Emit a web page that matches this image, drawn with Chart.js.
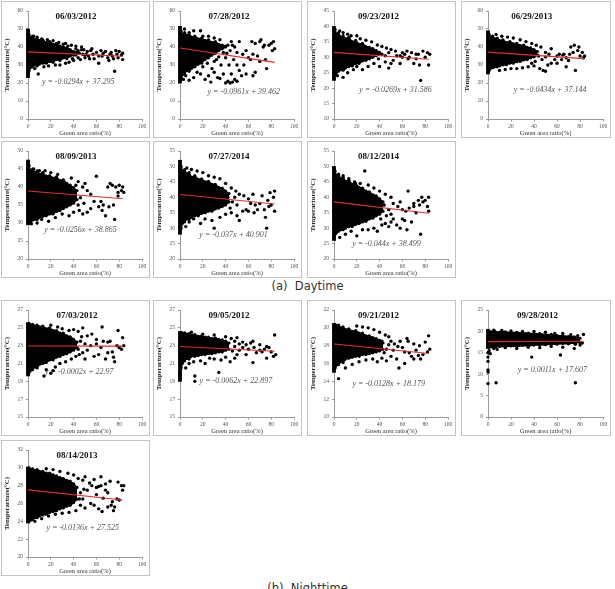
<!DOCTYPE html>
<html><head><meta charset="utf-8">
<script src="https://cdn.jsdelivr.net/npm/chart.js@4.4.1/dist/chart.umd.min.js"></script>
<style>
body{margin:0;background:#fff;width:615px;height:589px;overflow:hidden;position:relative}
.panel{position:absolute;border:1px solid #c4c4c4;box-sizing:border-box;background:#fff;overflow:hidden}
.panel canvas{position:absolute;left:0;top:0}
.cap{position:absolute;left:0;width:615px;text-align:center;font-family:"DejaVu Sans",sans-serif;font-size:11.5px;color:#333;white-space:pre}
</style></head><body>
<div class="cap" style="top:279px">(a)  Daytime</div>
<div class="cap" style="top:581px">(b)  Nighttime</div>
<script>
// ---------- data ----------
const titles = ['06/03/2012','07/28/2012','09/23/2012','06/29/2013','08/09/2013','07/27/2014','08/12/2014',
                '07/03/2012','09/05/2012','09/21/2012','09/28/2012','08/14/2013'];
const equations = ['y = -0.0294x + 37.295','y = -0.0961x + 39.462','y = -0.0269x + 31.586','y = -0.0434x + 37.144',
                   'y = -0.0256x + 38.865','y = -0.037x + 40.901','y = -0.044x + 38.499',
                   'y = -0.0002x + 22.97','y = -0.0062x + 22.897','y = -0.0128x + 18.179','y = 0.0011x + 17.607','y = -0.0136x + 27.525'];
const yMins  = [0,0,10,0,20,20,20,15,15,10,0,20];
const yMaxs  = [60,60,45,60,50,55,55,27,27,22,25,32];
const ySteps = [10,10,5,10,5,5,5,2,2,2,5,2];
const xTicks = [0,20,40,60,80,100];
// range of the solid column of points at green ratio 0
const zeroColumns = [[23,50],[20,51.5],[22.5,40],[25,49],[29.5,47.5],[28,52],[26,50],[19.6,25.6],[19,24.6],[15,20.5],[16,20.5],[23.8,30.1]];
// regression line end points (x = 0 and x = 83)
const trendX = [0,83];
const trendStart = [37.3,39.46,31.59,37.14,38.87,40.9,38.5,22.97,22.9,18.18,17.61,27.53];
const trendEnd   = [34.85,31.48,29.35,33.54,36.74,37.83,34.85,22.95,22.38,17.12,17.7,26.4];

// dense point mass: [x, low edge, high edge]
const d1Dense = [[1,27,47],[2,28.5,45],[4,29,46],[6,30,44],[8,29.5,45],[10,30.5,43.5],[13,31,44],[16,31,42.5],[19,32,43],[22,31.5,41.5],[25,33,42],[28,32.5,40.5],[31,34,40],[34,33.5,39.5],[37,35,38.5],[40,35.5,37.5],[43,36.5,37]];
const d2Dense = [[1,23,49],[2,24.5,47],[4,25,48],[6,27,46.5],[8,26.5,47],[10,28,45.5],[13,29,46],[16,30.5,44.5],[19,31,45],[22,33,43.5],[25,34,44],[28,35.5,42.5],[31,36.5,43],[34,38,41.5],[37,39,41],[40,40,40.5]];
const d3Dense = [[1,24.5,39],[2,25,37.5],[4,25.5,38],[6,26,36.5],[8,25.8,37],[10,26.5,36],[13,27,36.5],[16,27.2,35],[19,28,35.5],[22,28,34.2],[25,28.8,34.5],[28,29,33.5],[31,29.5,33.2],[34,30,32.8],[37,30.5,32.2],[40,31,31.6]];
const d4Dense = [[1,27,47],[2,28,45.5],[4,28.5,46],[6,29,44.5],[8,29,45],[10,29.5,43.5],[13,30,44],[16,30.2,42.5],[19,31,43],[22,31,41.8],[25,31.8,42],[28,32,40.8],[31,32.8,41],[34,33,39.8],[37,34,39.5],[40,34.5,38.5],[43,35.5,37.5]];
const d5Dense = [[1,30,46],[2,30.5,44.5],[4,30.8,45],[6,31,44],[8,31,44.5],[10,31.5,43.5],[13,31.8,44],[16,32,43],[19,32.5,43.2],[22,32.5,42.5],[25,33.2,42.8],[28,33.5,41.8],[31,34,42],[34,34.5,41],[37,35,40.5],[40,35.5,39.8],[43,36.5,39]];
const d6Dense = [[1,30,50],[2,31.5,48.5],[4,32,49],[6,33,47.5],[8,32.8,48],[10,33.5,46.5],[13,34,47],[16,34,45.8],[19,34.8,46],[22,35,45],[25,35.5,45.2],[28,35.5,44.2],[31,36.2,44.2],[34,36.5,43.2],[37,37,43],[40,37.5,42],[43,38.5,41.2]];
const d7Dense = [[1,28,48.5],[2,28.5,47],[4,29,47.5],[6,29.5,46],[8,29.5,46.5],[10,30,45.2],[13,30.5,45.5],[16,30.5,44.2],[19,31.2,44.5],[22,31.5,43.2],[25,32,43],[28,32.2,42],[31,33,41.8],[34,33.2,40.8],[37,34,40.5],[40,34.5,39.5],[43,35.5,38.5]];
const n1Dense = [[1,20,25.5],[2,20.2,25.3],[4,20.3,25.4],[6,20.6,25.2],[8,20.5,25.3],[10,20.9,25.1],[13,21,25.2],[16,21.1,24.9],[19,21.4,25],[22,21.4,24.7],[25,21.7,24.7],[28,21.8,24.4],[31,22,24.4],[34,22.1,24.1],[37,22.3,24],[40,22.5,23.7],[43,22.8,23.4]];
const n2Dense = [[1,20.5,24.5],[2,21,24.4],[4,21.3,24.45],[6,21.6,24.3],[8,21.5,24.35],[10,21.8,24.2],[13,21.8,24.25],[16,21.9,24.05],[19,22,24.1],[22,22,23.95],[25,22.1,23.95],[28,22.1,23.8],[31,22.2,23.85],[34,22.3,23.7],[37,22.3,23.65],[40,22.5,23.5],[43,22.6,23.3]];
const n3Dense = [[1,15.5,20.4],[2,15.8,20.2],[4,15.9,20.3],[6,16.2,20],[8,16.1,20.1],[10,16.5,19.8],[13,16.6,19.9],[16,16.7,19.6],[19,16.8,19.7],[22,16.8,19.4],[25,17,19.4],[28,17,19.1],[31,17.1,19.1],[34,17.2,18.9],[37,17.3,18.8],[40,17.4,18.6],[43,17.6,18.3]];
const n4Dense = [[1,16.3,20],[3,16.4,19.9],[6,16.3,20],[10,16.5,19.8],[15,16.4,19.9],[20,16.6,19.7],[25,16.5,19.8],[30,16.7,19.6],[35,16.6,19.6],[40,16.8,19.4],[45,16.8,19.5],[50,16.9,19.2],[55,17,19.3],[60,17,19],[65,17.2,19],[70,17.1,18.8],[75,17.3,18.7],[80,17.4,18.4]];
const n5Dense = [[1,24,30],[2,24.1,29.8],[4,24.2,29.9],[6,24.4,29.7],[8,24.4,29.8],[10,24.6,29.6],[13,24.7,29.6],[16,24.8,29.4],[19,25,29.4],[22,25.1,29.2],[25,25.2,29.1],[28,25.4,28.9],[31,25.5,28.8],[34,25.7,28.6],[37,25.8,28.5],[40,26.1,28.2],[43,26.5,27.8]];

// individual scattered points: [x, y]
const d1Points = [[5,46],[8,45.5],[12,44.5],[17,44],[22,43.5],[27,42.5],[33,42],[38,41],[42,40.5],[47,40],[44,38],[49,38.5],[52,37.5],[55,38],[57,36],[60,37],[62,35],[64,38],[66,36.5],[68,37.5],[70,34],[72,36],[74,35],[75,33.5],[77,38],[78,36],[80,37.5],[82,35.5],[83,36.5],[83,33],[76,26.5],[9,25],[6,28],[14,29],[18,29.5],[24,30],[28,30],[33,31],[36,31.5],[40,32.5],[46,33],[50,34],[53,35],[58,33.5],[62,31],[65,35],[71,32.5],[73,37],[79,34],[48,36],[42,35.5],[44,34],[47,38.5],[51,36],[54,33.5],[56,39],[45,36.5],[50,35.5],[39,33.5],[35,40.5],[31,41.5],[42,39]];
const d2Points = [[3,22],[8,21.5],[12,23],[5,24],[15,26],[18,25],[22,22],[25,24],[27,20.5],[30,26],[33,23],[35,22.5],[38,25],[40,20],[42,21],[44,20],[46,20.5],[48,22],[50,21],[45,25],[52,27],[50,30],[47,33],[43,30],[40,34],[36,30],[28,28],[24,31],[20,29],[26,36],[32,33],[38,37],[42,41],[45,43],[48,40],[50,37],[52,43],[55,36],[58,38],[60,34],[62,33],[64,36],[63,43],[66,42],[70,43],[71,44],[73,40],[75,33],[76,28],[74,41],[78,41],[80,42],[81,38],[82,43],[83,39],[70,32],[66,26],[68,35],[56,30],[54,24],[58,25],[64,24],[12,49],[8,48],[20,46],[25,46],[30,45],[35,44],[18,49],[4,50],[44,38],[41,36.5],[46,41],[34,34.5],[30,32]];
const d3Points = [[3,24],[8,23.5],[12,25],[17,26],[20,27],[25,26],[30,27],[35,28],[40,27],[45,28.5],[50,28],[48,26.5],[52,29],[55,30.5],[58,28],[60,30],[62,31],[64,32],[66,30],[68,31.5],[70,28],[72,29.5],[74,31],[75,27.5],[76,22.5],[78,32],[80,30],[82,31.5],[83,27.5],[84,31],[5,38.5],[8,38],[12,37.5],[15,37],[20,37],[23,36],[28,35.5],[33,35],[38,34],[42,33.5],[46,33],[50,32.5],[54,32],[60,31.5],[65,29.5],[72,31],[58,30.5],[42,31],[45,30.5],[39,29.5],[48,31.5],[36,32]];
const d4Points = [[10,27],[15,27.5],[20,28],[25,28],[30,28.5],[35,29],[40,29.5],[45,28],[48,27],[50,26.5],[52,30],[55,31],[58,33],[60,35],[62,36],[64,33],[66,36],[68,34],[70,32.5],[72,40],[74,37],[75,41],[76,27],[78,38],[80,35],[82,37],[83,34],[84,35],[50,37],[46,40],[42,41],[38,42],[33,43],[28,44],[22,45],[17,45.5],[12,46],[7,47],[55,39],[65,35.5],[71,36],[79,40],[60,31],[68,29],[44,35],[47,33],[41,32],[50,34.5],[53,36],[38,31]];
const d5Points = [[3,29.8],[8,30],[12,31],[18,30.5],[24,31.5],[30,32.5],[36,32],[40,33],[45,33.5],[48,32.5],[52,33],[55,34],[58,36],[60,43],[62,34.5],[64,36],[66,35],[68,32],[70,40],[72,41],[74,40.5],[75,35],[76,31],[77,40],[79,38.5],[80,40.5],[82,39],[83,40],[84,38.5],[50,41],[48,40],[44,41.5],[42,40.5],[38,42.5],[5,45],[10,44.5],[15,44.5],[20,44],[26,43.5],[55,38],[65,33.5],[71,34.5],[79,37.5],[46,37],[49,35.5],[44,35],[52,39],[41,36.5]];
const d6Points = [[5,30.5],[8,32],[12,33],[18,31.5],[22,33],[28,32.5],[30,30],[35,33.5],[40,34.5],[45,35],[50,34],[52,32.5],[55,35.5],[58,36],[60,35.5],[62,38],[64,41],[65,35],[68,36],[70,38],[72,40.5],[74,36],[75,33.5],[76,30],[77,39],[78,37],[79,41.5],[80,37.5],[82,40],[83,42],[83,35.5],[48,40],[52,41],[56,40.5],[60,39.5],[50,37.5],[45,43],[40,44.5],[35,46],[30,46.5],[25,47],[20,48],[15,48.5],[10,49],[6,49.5],[66,37.5],[46,38.5],[44,36.5],[49,42],[42,40]];
const d7Points = [[27,48.5],[20,27.5],[76,28],[5,27],[10,28],[15,29],[25,29.5],[30,29.5],[35,30],[38,29],[42,31],[45,31.5],[48,30.5],[50,32],[52,33],[55,31],[58,30],[60,33],[62,32.5],[64,29.5],[65,42],[66,36.5],[68,32],[70,38],[72,35],[74,39],[75,37.5],[77,40],[78,38.5],[80,39],[82,37],[83,40],[83,35.5],[8,47],[13,46],[18,45],[23,44.5],[30,44],[35,43],[40,42],[45,41],[50,40],[52,38],[56,37],[60,36],[63,35.5],[70,37],[58,38.5],[48,36],[46,34],[44,37.5],[50,34.5],[41,33]];
const n1Points = [[14,19.6],[20,19.9],[16,20.3],[24,20.6],[28,21],[22,20.2],[33,21.2],[38,21.5],[42,21.8],[45,22],[48,22.2],[50,21.5],[52,22.5],[55,23],[58,21.8],[60,23.2],[62,22],[64,22.8],[65,25.1],[66,23.5],[68,21.5],[70,22.2],[72,23.5],[74,22.3],[75,21.7],[76,21.2],[78,23],[79,24.7],[80,22.8],[82,22.6],[83,23.9],[84,23],[48,25],[44,24.6],[40,24.8],[36,24.7],[30,24.9],[26,25.1],[20,25.3],[56,24.3],[52,24.1],[60,23.7],[70,23.4],[46,23.5],[47,24],[50,23.2],[44,22.6]];
const n2Points = [[13,19],[13,19.6],[34,20],[5,20.5],[8,21],[12,21.2],[18,21.3],[22,21],[26,21.6],[30,21.5],[36,21.4],[40,21.7],[44,21.2],[48,21.6],[50,22],[52,22.5],[55,22.8],[58,22],[60,22.6],[62,23.3],[64,21.1],[65,22.8],[67,22.2],[70,22.5],[72,22.3],[74,22.6],[76,21.6],[78,22.8],[80,22.3],[82,21.8],[83,24.2],[84,22],[45,23.8],[48,23.5],[50,23.9],[55,23.4],[58,23.1],[64,23.5],[70,23.1],[76,22.9],[10,24.5],[20,24.3],[30,24.2],[40,24],[46,22.4],[48,22.9],[52,23.2]];
const n3Points = [[4,14.3],[10,15.5],[16,15.9],[22,16.2],[28,16.4],[34,16.5],[38,16.2],[42,16.6],[46,16.3],[50,16.8],[52,17.5],[55,16.5],[57,15.5],[58,18.5],[60,17.8],[62,16],[64,18.8],[65,18.5],[66,17.2],[68,16.8],[70,16.5],[72,17.5],[74,16.9],[75,18],[76,16.5],[78,17],[80,18.4],[82,17.3],[83,19.1],[84,17.6],[45,19.2],[48,19],[50,18.5],[53,18.2],[56,17.9],[42,18.5],[40,19.5],[35,19.8],[30,20],[25,20.1],[20,20.2],[70,18.2],[62,17.3],[46,17.6],[48,18.1],[44,17.2]];
const n4Points = [[7,8],[38,14],[63,14.5],[76,8],[0,7.8],[0,10.5],[0,11],[0,13],[0,14],[0,15],[1,15.5],[2,14.8],[5,16],[8,15.8],[15,16.2],[25,16],[35,16.3],[45,16.2],[55,16.5],[65,16.3],[75,16],[76,17],[80,16.8],[83,19.3],[82,17.3],[78,19],[72,19.2],[65,19.5],[58,19.5],[50,19.8],[40,20],[30,20],[20,20.1],[12,20.2],[5,20.3]];
const n5Points = [[6,24],[12,24.3],[18,24.6],[24,24.8],[30,24.9],[36,25],[42,25.2],[46,25.8],[48,26.5],[50,25.5],[52,27.5],[55,26],[56,28],[58,25.8],[60,27],[62,25.4],[64,28],[65,25.1],[66,26.6],[68,27.5],[70,25.6],[72,28.5],[73,25.8],[74,26.2],[75,25.2],[76,25.6],[78,26.5],[79,28.4],[80,26.4],[82,28],[83,27.5],[84,28],[44,28.8],[48,28.6],[50,29],[54,28.3],[58,28.7],[60,27.8],[64,29],[68,28.2],[40,29.2],[35,29.4],[28,29.6],[22,29.8],[16,29.9],[70,27.2],[62,27.9],[46,27.2],[49,27.6],[45,26.5]];

const denseSets = [d1Dense,d2Dense,d3Dense,d4Dense,d5Dense,d6Dense,d7Dense,n1Dense,n2Dense,n3Dense,n4Dense,n5Dense];
const pointSets = [d1Points,d2Points,d3Points,d4Points,d5Points,d6Points,d7Points,n1Points,n2Points,n3Points,n4Points,n5Points];

// ---------- layout (panel boxes, text placement) ----------
const boxes = [[1,1,149,137],[153,1,149,137],[307,1,149,137],[461,1,150,137],
               [1,141,149,137],[153,141,149,137],[307,141,149,137],
               [1,300,149,136],[153,300,149,136],[307,300,149,136],[461,300,150,136],
               [1,440,149,136]];
const titlePos = [0.42,0.43,0.39,0.38,0.42,0.43,0.39,0.43,0.43,0.39,0.43,0.43];
const eqPos = [[0.44,0.66],[0.56,0.75],[0.54,0.73],[0.54,0.73],[0.46,0.73],[0.47,0.78],[0.46,0.86],
               [0.45,0.58],[0.49,0.66],[0.48,0.69],[0.56,0.56],[0.48,0.73]];

const SERIF = '"Liberation Serif", "Times New Roman", serif';
const panelText = {
  id: 'panelText',
  beforeDatasetsDraw(chart, args, o) {
    const a = chart.chartArea, ctx = chart.ctx;
    ctx.save();
    ctx.textAlign = 'center'; ctx.textBaseline = 'middle';
    ctx.fillStyle = '#111'; ctx.font = 'bold 9px ' + SERIF;
    ctx.fillText(o.title, a.left + a.width * o.tx, a.top + 5.5);
    ctx.fillStyle = '#555'; ctx.font = 'italic 8px ' + SERIF;
    ctx.fillText(o.eq, a.left + a.width * o.ex, a.top + a.height * o.ey);
    ctx.restore();
  }
};

for (let i = 0; i < 12; i++) {
  const [L, T, W, H] = boxes[i];
  const div = document.createElement('div');
  div.className = 'panel';
  div.style.cssText = `left:${L}px;top:${T}px;width:${W}px;height:${H}px`;
  const cv = document.createElement('canvas');
  cv.width = W - 2; cv.height = H - 2;
  div.appendChild(cv);
  document.body.appendChild(div);
  const axisCol = '#9a9a9a';
  const tickFont = {family: SERIF, size: 5.5};
  new Chart(cv, {
    type: 'scatter',
    plugins: [panelText],
    data: {
      datasets: [
        {type: 'line', data: trendX.map((x, k) => ({x, y: k === 0 ? trendStart[i] : trendEnd[i]})),
         borderColor: '#e0302a', borderWidth: 1.1, pointRadius: 0, fill: false},
        {data: pointSets[i].map(p => ({x: p[0], y: p[1]})), pointRadius: 1.7, pointBackgroundColor: '#000',
         pointBorderWidth: 0, backgroundColor: '#000', clip: false},
        {type: 'bar', data: [{x: 0, y: zeroColumns[i]}], backgroundColor: '#000', barThickness: 3.2,
         grouped: false, borderWidth: 0, clip: false},
        {type: 'line', data: denseSets[i].map(d => ({x: d[0], y: d[2]})), borderColor: '#000', borderWidth: 1.5,
         backgroundColor: '#000', pointRadius: 1.6, pointBackgroundColor: '#000', pointBorderWidth: 0,
         tension: 0, fill: '+1', clip: false},
        {type: 'line', data: denseSets[i].map(d => ({x: d[0], y: d[1]})), borderColor: '#000', borderWidth: 1.5,
         pointRadius: 1.6, pointBackgroundColor: '#000', pointBorderWidth: 0, tension: 0, fill: false, clip: false}
      ]
    },
    options: {
      responsive: false, devicePixelRatio: 1, animation: false,
      layout: {padding: {left: 0, right: 7, top: 9, bottom: 0}},
      plugins: {legend: {display: false}, tooltip: {enabled: false},
                panelText: {title: titles[i], eq: equations[i], tx: titlePos[i], ex: eqPos[i][0], ey: eqPos[i][1]}},
      scales: {
        x: {type: 'linear', min: xTicks[0], max: xTicks[xTicks.length - 1], offset: false,
            afterBuildTicks: s => { s.ticks = xTicks.map(v => ({value: v})); },
            ticks: {font: tickFont, color: '#555', padding: 2, maxRotation: 0, autoSkip: false},
            grid: {display: true, drawOnChartArea: false, drawTicks: true, tickLength: 2.5, color: axisCol, offset: false},
            border: {display: true, color: axisCol, width: 1},
            title: {display: true, text: 'Green area ratio(%)', font: {family: SERIF, size: 6.5}, color: '#333', padding: 0},
            afterFit: s => { s.height = 18; }},
        y: {type: 'linear', min: yMins[i], max: yMaxs[i],
            ticks: {stepSize: ySteps[i], font: tickFont, color: '#555', padding: 3},
            grid: {display: true, drawOnChartArea: false, drawTicks: true, tickLength: 2, color: axisCol},
            border: {display: true, color: axisCol, width: 1},
            title: {display: true, text: 'Temperarture(°C)', font: {family: SERIF, size: 6.8, weight: 'bold'}, color: '#222', padding: {top: 1, bottom: 0}},
            afterFit: s => { s.width = 26; }}
      }
    }
  });
}
</script>
</body></html>
